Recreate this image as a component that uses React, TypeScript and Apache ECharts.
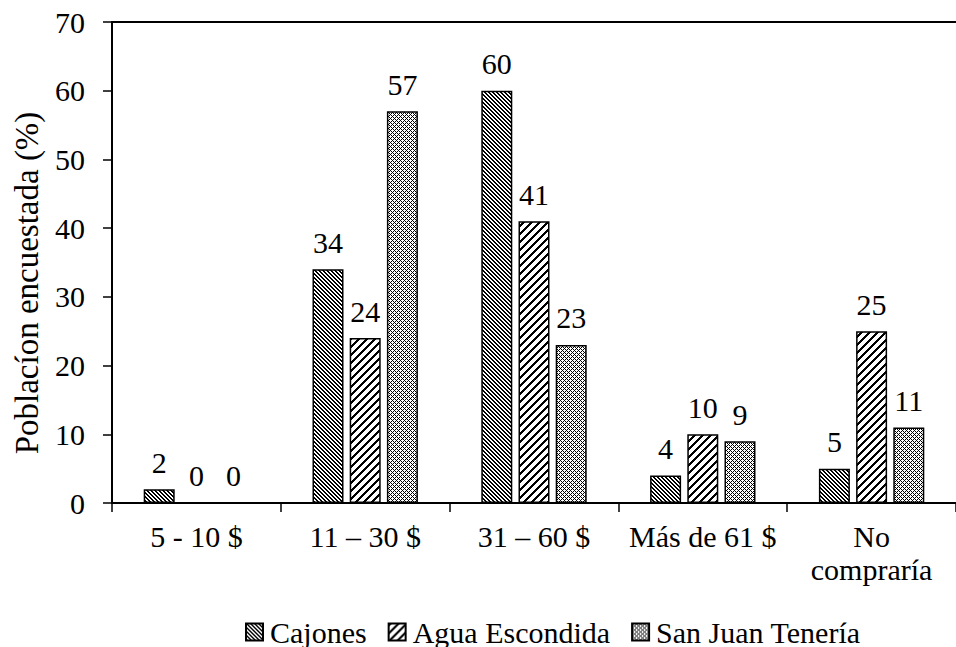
import React, { useEffect, useRef } from 'react';
import * as echarts from 'echarts';

const categories = ['5 - 10 $', '11 – 30 $', '31 – 60 $', 'Más de 61 $', 'No\ncompraría'];
const seriesNames = ['Cajones', 'Agua Escondida', 'San Juan Tenería'];
const cajones = [2, 34, 60, 4, 5];
const aguaEscondida = [0, 24, 41, 10, 25];
const sanJuanTeneria = [0, 57, 23, 9, 11];
const yMin = 0;
const yMax = 70;
const yInterval = 10;
const yAxisTitle = 'Poblacíon encuestada (%)';

const FONT = 'Liberation Serif';

function makeTile(size: number, isBlack: (x: number, y: number) => boolean) {
  const c = document.createElement('canvas');
  c.width = size;
  c.height = size;
  const ctx = c.getContext('2d')!;
  ctx.fillStyle = '#ffffff';
  ctx.fillRect(0, 0, size, size);
  ctx.fillStyle = '#000000';
  for (let y = 0; y < size; y++) {
    for (let x = 0; x < size; x++) {
      if (isBlack(x, y)) ctx.fillRect(x, y, 1, 1);
    }
  }
  return c;
}

export default function App() {
  const ref = useRef<HTMLDivElement>(null);
  useEffect(() => {
    if (!ref.current) return;
    const chart = echarts.init(ref.current, undefined, { renderer: 'svg' });

    const tileCajones = makeTile(4, (x, y) => ((x - y + 8) % 4) < 2);
    const tileAgua = makeTile(8, (x, y) => ((x + y) % 8) < 3);
    const tileSanJuan = makeTile(8, (x, y) => ((x + y) % 4 === 0) || ((x - y + 8) % 4 === 0));

    const patterns = [tileCajones, tileAgua, tileSanJuan].map((img) => ({ image: img, repeat: 'repeat' }));
    const datasets = [cajones, aguaEscondida, sanJuanTeneria];

    const series = datasets.map((d, i) => ({
      name: seriesNames[i],
      type: 'bar',
      data: d,
      barWidth: 31,
      barGap: '20%',
      itemStyle: { color: patterns[i] as any, borderColor: '#000', borderWidth: 1.5 },
      label: {
        show: true,
        position: 'top',
        distance: 12,
        color: '#000',
        fontSize: 30,
        fontFamily: FONT,
      },
    }));

    chart.setOption({
      animation: false,
      backgroundColor: '#fff',
      textStyle: { fontFamily: FONT },
      grid: { left: 112, right: -9, top: 22, bottom: 144, containLabel: false },
      legend: {
        data: seriesNames,
        left: 240,
        top: 612,
        itemWidth: 17,
        itemHeight: 17,
        itemGap: 21,
        icon: 'rect',
        textStyle: { fontSize: 30, fontFamily: FONT, color: '#000', padding: [0, 0, 0, 2] },
      },
      xAxis: [
        {
          type: 'category',
          data: categories,
          axisLine: { show: true, lineStyle: { color: '#000', width: 2 } },
          axisTick: { show: true, length: 9, interval: 0, lineStyle: { color: '#000', width: 1.5 } },
          axisLabel: {
            interval: 0,
            margin: 17,
            fontSize: 30,
            lineHeight: 33,
            fontFamily: FONT,
            color: '#000',
          },
        },
        {
          type: 'category',
          position: 'top',
          data: categories,
          axisLine: { show: true, lineStyle: { color: '#000', width: 2 } },
          axisTick: { show: false },
          axisLabel: { show: false },
        },
      ],
      yAxis: {
        type: 'value',
        min: yMin,
        max: yMax,
        interval: yInterval,
        axisLine: { show: true, lineStyle: { color: '#000', width: 2 } },
        axisTick: { show: true, length: 9, lineStyle: { color: '#000', width: 1.5 } },
        splitLine: { show: false },
        axisLabel: { margin: 27, fontSize: 30, fontFamily: FONT, color: '#000' },
      },
      graphic: [
        {
          type: 'text',
          x: 27,
          y: 283,
          rotation: Math.PI / 2,
          style: {
            text: yAxisTitle,
            fontSize: 33,
            fontFamily: FONT,
            fill: '#000',
            textAlign: 'center',
            textVerticalAlign: 'middle',
          },
        },
      ],
      series,
    });

    return () => chart.dispose();
  }, []);
  return <div ref={ref} style={{ position: 'absolute', left: 0, top: 0, width: 956, height: 647 }} />;
}
